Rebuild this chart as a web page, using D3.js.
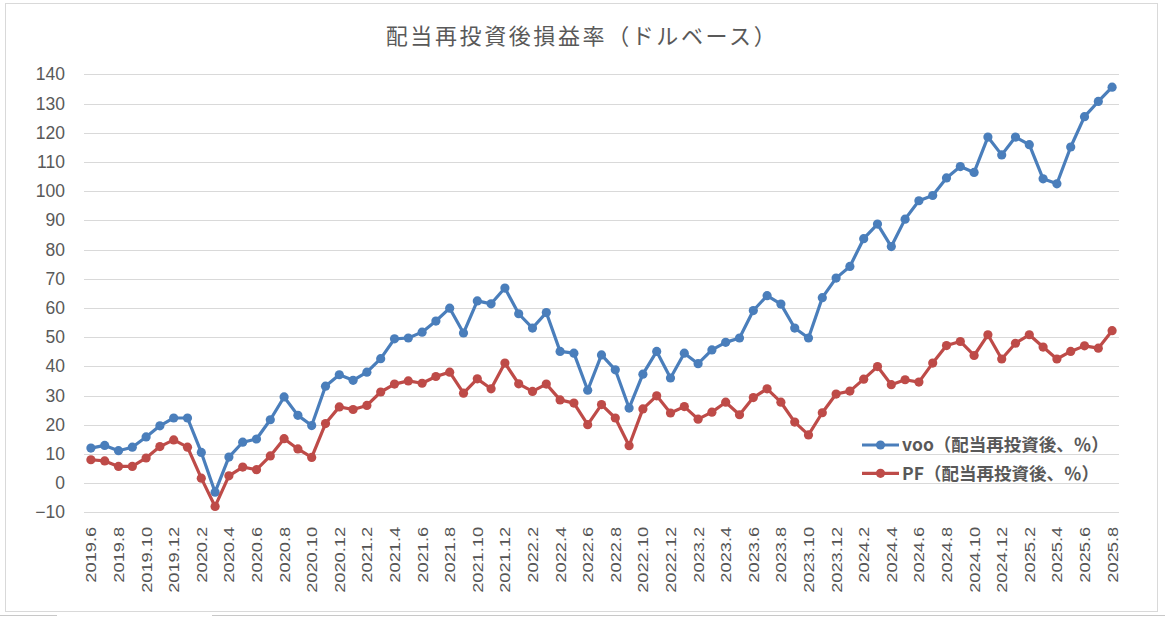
<!DOCTYPE html>
<html>
<head>
<meta charset="utf-8">
<script src="https://cdn.jsdelivr.net/npm/d3@7/dist/d3.min.js"></script>
<style>
  html, body { margin: 0; padding: 0; background: #fff; }
  svg { display: block; }
</style>
</head>
<body>
<svg id="chart" width="1165" height="618"></svg>
<script>
const categories = [
  "2019.6","2019.7","2019.8","2019.9","2019.10","2019.11","2019.12",
  "2020.1","2020.2","2020.3","2020.4","2020.5","2020.6","2020.7","2020.8","2020.9","2020.10","2020.11","2020.12",
  "2021.1","2021.2","2021.3","2021.4","2021.5","2021.6","2021.7","2021.8","2021.9","2021.10","2021.11","2021.12",
  "2022.1","2022.2","2022.3","2022.4","2022.5","2022.6","2022.7","2022.8","2022.9","2022.10","2022.11","2022.12",
  "2023.1","2023.2","2023.3","2023.4","2023.5","2023.6","2023.7","2023.8","2023.9","2023.10","2023.11","2023.12",
  "2024.1","2024.2","2024.3","2024.4","2024.5","2024.6","2024.7","2024.8","2024.9","2024.10","2024.11","2024.12",
  "2025.1","2025.2","2025.3","2025.4","2025.5","2025.6","2025.7","2025.8"
];

const vooValues = [
  12.0, 12.9, 11.1, 12.3, 15.8, 19.6, 22.3,
  22.3, 10.5, -3.1, 8.9, 14.0, 15.1, 21.7, 29.5, 23.2, 19.7, 33.2, 37.1,
  35.2, 38.0, 42.6, 49.4, 49.7, 51.7, 55.5, 59.9, 51.4, 62.4, 61.4, 66.8,
  58.0, 53.1, 58.4, 45.1, 44.5, 31.8, 43.9, 38.8, 25.7, 37.3, 45.1, 36.0,
  44.5, 40.9, 45.6, 48.2, 49.7, 59.1, 64.2, 61.3, 53.1, 49.7, 63.5, 70.2,
  74.2, 83.7, 88.7, 81.0, 90.4, 96.7, 98.5, 104.5, 108.4, 106.4, 118.5, 112.4,
  118.5, 115.9, 104.2, 102.5, 115.1, 125.5, 130.7, 135.6
];

const pfValues = [
  8.0, 7.6, 5.7, 5.7, 8.6, 12.5, 14.8,
  12.3, 1.7, -8.0, 2.5, 5.5, 4.6, 9.3, 15.2, 11.7, 8.8, 20.4, 26.1,
  25.2, 26.6, 31.2, 33.9, 35.0, 34.2, 36.5, 38.0, 30.8, 35.7, 32.3, 41.1,
  34.0, 31.4, 33.9, 28.5, 27.4, 20.0, 26.9, 22.3, 12.8, 25.4, 29.9, 24.0,
  26.2, 21.9, 24.3, 27.7, 23.4, 29.3, 32.3, 27.7, 20.9, 16.5, 24.1, 30.5,
  31.5, 35.6, 39.9, 33.7, 35.4, 34.6, 41.1, 47.1, 48.5, 43.7, 50.8, 42.5,
  47.9, 50.8, 46.6, 42.5, 45.1, 47.0, 46.2, 52.2
];

const yTicks = [-10, 0, 10, 20, 30, 40, 50, 60, 70, 80, 90, 100, 110, 120, 130, 140];
const xTickLabels = categories.filter((d, i) => i % 2 === 0);

const seriesNames = ["voo（配当再投資後、％）", "PF（配当再投資後、％）"];
const seriesColors = ["#4A7EBB", "#BE4B48"];
const titleText = "配当再投資後損益率（ドルベース）";

const series = [
  { name: seriesNames[0], values: vooValues, color: seriesColors[0] },
  { name: seriesNames[1], values: pfValues, color: seriesColors[1] }
];

const svg = d3.select("#chart");
const plot = { left: 84, right: 1119, top: 74.3, bottom: 512.3 };

// chart frame
svg.append("rect")
  .attr("x", 5.5).attr("y", 3.5)
  .attr("width", 1152).attr("height", 608)
  .attr("fill", "#fff").attr("stroke", "#d9d9d9").attr("stroke-width", 1);

// sheet lines below the chart
svg.append("line").attr("x1", 0).attr("x2", 57).attr("y1", 615.5).attr("y2", 615.5)
  .attr("stroke", "#c8c8c8");
svg.append("line").attr("x1", 212).attr("x2", 1165).attr("y1", 615.5).attr("y2", 615.5)
  .attr("stroke", "#c8c8c8");

const x = d3.scaleBand().domain(categories).range([plot.left, plot.right]).padding(0);
const y = d3.scaleLinear().domain([-10, 140]).range([plot.bottom, plot.top]);
const cx = d => x(d) + x.bandwidth() / 2;

// gridlines
const yGrid = d3.axisLeft(y).tickValues(yTicks).tickSize(-(plot.right - plot.left)).tickFormat("");
svg.append("g")
  .attr("transform", `translate(${plot.left},0)`)
  .call(yGrid)
  .call(g => g.select(".domain").remove())
  .call(g => g.selectAll("line").attr("stroke", "#d9d9d9").attr("stroke-width", 1)
    .attr("shape-rendering", "crispEdges"));

// y axis labels
const yAxis = d3.axisLeft(y).tickValues(yTicks).tickSize(0).tickPadding(0).tickFormat(d3.format("d"));
svg.append("g")
  .attr("transform", `translate(65,0)`)
  .call(yAxis)
  .call(g => g.select(".domain").remove())
  .call(g => g.selectAll("text")
    .attr("font-family", "'Liberation Sans', Arial, sans-serif")
    .attr("font-size", 17.5)
    .attr("fill", "#595959"));

// x axis labels
const xAxis = d3.axisBottom(x).tickValues(xTickLabels).tickSize(0).tickPadding(0);
const xg = svg.append("g")
  .attr("transform", `translate(0,${plot.bottom})`)
  .call(xAxis);
xg.select(".domain").remove();
xg.selectAll(".tick text")
  .attr("font-family", "'Liberation Sans', Arial, sans-serif")
  .attr("font-size", 15.5)
  .attr("fill", "#555555")
  .attr("text-anchor", "end")
  .attr("dy", "0.35em")
  .attr("y", 0)
  .attr("x", 0)
  .attr("transform", "translate(0,14.5) rotate(-90) scale(1.18,1)");

// lines
const line = d3.line()
  .x((d, i) => cx(categories[i]))
  .y(d => y(d));

series.forEach(s => {
  const g = svg.append("g");
  g.append("path")
    .datum(s.values)
    .attr("d", line)
    .attr("fill", "none")
    .attr("stroke", s.color)
    .attr("stroke-width", 3.2)
    .attr("stroke-linejoin", "round")
    .attr("stroke-linecap", "round");
  g.selectAll("circle")
    .data(s.values)
    .join("circle")
    .attr("cx", (d, i) => cx(categories[i]))
    .attr("cy", d => y(d))
    .attr("r", 4.6)
    .attr("fill", s.color);
});

// legend
const legend = svg.append("g");
series.forEach((s, i) => {
  const ly = 445 + i * 28.3;
  legend.append("line")
    .attr("x1", 862).attr("x2", 899).attr("y1", ly).attr("y2", ly)
    .attr("stroke", s.color).attr("stroke-width", 3.2);
  legend.append("circle")
    .attr("cx", 880.5).attr("cy", ly).attr("r", 4.6).attr("fill", s.color);
  legend.append("text")
    .attr("x", 902).attr("y", ly)
    .attr("dy", "0.36em")
    .attr("font-family", "'Noto Sans CJK JP', sans-serif")
    .attr("font-size", 17.5)
    .attr("font-weight", "bold")
    .attr("fill", "#595959")
    .text(s.name);
});

// title
svg.append("text")
  .attr("x", 582).attr("y", 36)
  .attr("dy", "0.35em")
  .attr("text-anchor", "middle")
  .attr("font-family", "'Noto Sans CJK JP', sans-serif")
  .attr("font-size", 22)
  .attr("letter-spacing", 2.6)
  .attr("fill", "#595959")
  .text(titleText);
</script>
</body>
</html>
